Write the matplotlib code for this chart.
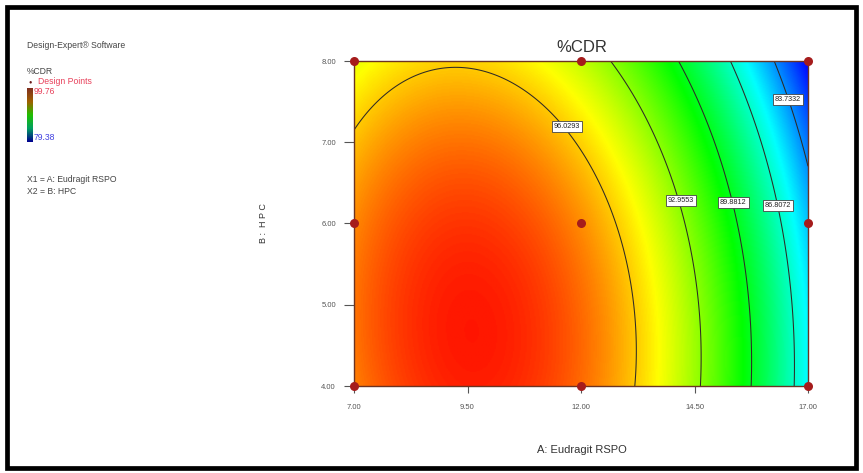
import numpy as np
import matplotlib
matplotlib.use("Agg")
import matplotlib.pyplot as plt
from matplotlib.colors import LinearSegmentedColormap, Normalize
from matplotlib.patches import Rectangle

plt.rcParams['font.family'] = ['Liberation Sans', 'DejaVu Sans']

# ---- data ----
a_range = [7.0, 17.0]          # A: Eudragit RSPO
b_range = [4.0, 8.0]           # B: HPC
x_ticks = [7.00, 9.50, 12.00, 14.50, 17.00]
y_ticks = [4.00, 5.00, 6.00, 7.00, 8.00]
# response surface coefficients (coded units a=(A-12)/5, b=(B-6)/2),
# read off the picture's contours; terms: 1, a, b, ab, a^2, b^2, a^3, a^2 b, a b^2
coef = [97.1510, -6.3621, -1.9142, -0.4718, -6.1722, -1.2818, 0.1032, 0.0528, -0.0434]
contour_levels = [83.7332, 86.8072, 89.8812, 92.9553, 96.0293]
contour_labels = ["83.7332", "86.8072", "89.8812", "92.9553", "96.0293"]
design_A = [7, 12, 17, 7, 12, 17, 7, 12, 17]
design_B = [4, 4, 4, 6, 6, 6, 8, 8, 8]
resp_high = 99.76
resp_low = 79.38

# label anchor positions (layout)
label_pos = [(16.56, 7.53), (16.34, 6.22), (15.35, 6.26), (14.20, 6.28), (11.69, 7.19)]


def surface(A, B):
    a = (A - 12.0) / 5.0
    b = (B - 6.0) / 2.0
    t = [np.ones_like(a), a, b, a * b, a ** 2, b ** 2, a ** 3, a ** 2 * b, a * b ** 2]
    return sum(c * ti for c, ti in zip(coef, t))


W, H = 863, 473
fig = plt.figure(figsize=(W / 100, H / 100), dpi=100)

# outer black frame
fig.patches.append(Rectangle((7 / W, 5 / H), (W - 14) / W, (H - 12) / H,
                             transform=fig.transFigure, fill=False,
                             edgecolor='black', linewidth=3.4, zorder=10))

ax = fig.add_axes([354 / W, 1 - 386 / H, (808 - 354) / W, (386 - 61) / H])

cmap = LinearSegmentedColormap.from_list(
    'de', ['#0000ff', '#00ffff', '#00ff00', '#ffff00', '#ff0000'])

Ag, Bg = np.meshgrid(np.linspace(a_range[0], a_range[1], 400),
                     np.linspace(b_range[0], b_range[1], 300))
Zg = surface(Ag, Bg)
norm = Normalize(vmin=Zg.min(), vmax=resp_high)
ax.imshow(Zg, origin='lower', extent=[a_range[0], a_range[1], b_range[0], b_range[1]],
          cmap=cmap, norm=norm, aspect='auto', interpolation='bilinear')
ax.contour(Ag, Bg, Zg, levels=contour_levels, colors='#2e2a26', linewidths=0.75)

for (x, y), s in zip(label_pos, contour_labels):
    ax.text(x, y, s, fontsize=5.2, ha='center', va='center', color='#222222', zorder=5,
            bbox=dict(boxstyle='square,pad=0.3', fc='white', ec='#444444', lw=0.6))

ax.plot(design_A, design_B, 'o', color='#a51c1c', markersize=6.5, clip_on=False,
        zorder=6, markeredgewidth=0)

ax.set_xlim(a_range)
ax.set_ylim(b_range)
ax.set_xticks(x_ticks)
ax.set_xticklabels([f"{v:.2f}" for v in x_ticks])
ax.set_yticks(y_ticks)
ax.set_yticklabels([f"{v:.2f}" for v in y_ticks])
ax.tick_params(axis='x', direction='out', length=5, width=0.8, pad=8,
               labelsize=5.5, colors='#555555')
ax.tick_params(axis='y', direction='out', length=7, width=0.8, pad=6,
               labelsize=5.5, colors='#555555')
for sp in ax.spines.values():
    sp.set_color('#6b3322')
    sp.set_linewidth(1.0)

fig.text(582 / W, 1 - 47 / H, "%CDR", ha='center', va='center', fontsize=12, color='#333333')
fig.text(582 / W, 1 - 450 / H, "A: Eudragit RSPO", ha='center', va='center', fontsize=8, color='#333333')
fig.text(264 / W, 1 - 223 / H, "B :  H P C", ha='center', va='center', fontsize=6.5,
         rotation=90, color='#333333')

# left info panel
g = '#444444'
fig.text(27 / W, 1 - 45 / H, "Design-Expert® Software", fontsize=6.2, va='center', color=g)
fig.text(27 / W, 1 - 71 / H, "%CDR", fontsize=6.2, va='center', color=g)
fig.text(30 / W, 1 - 82 / H, "●", fontsize=4, va='center', ha='center', color='#6b1a1a')
fig.text(38 / W, 1 - 82 / H, "Design Points", fontsize=6.2, va='center', color='#e8405a')
cax = fig.add_axes([27 / W, 1 - 142 / H, 6 / W, 54 / H])
cax.imshow(np.linspace(0, 1, 100).reshape(-1, 1), origin='lower', aspect='auto',
           cmap=LinearSegmentedColormap.from_list(
               'lg', ['#000090', '#00a060', '#20c000', '#a06000', '#803020']))
cax.set_axis_off()
fig.text(34 / W, 1 - 92 / H, f"{resp_high:.2f}", fontsize=6.2, va='center', color='#e8405a')
fig.text(34 / W, 1 - 138 / H, f"{resp_low:.2f}", fontsize=6.2, va='center', color='#4040e0')
fig.text(27 / W, 1 - 180 / H, "X1 = A: Eudragit RSPO", fontsize=6.2, va='center', color=g)
fig.text(27 / W, 1 - 192 / H, "X2 = B: HPC", fontsize=6.2, va='center', color=g)

fig.savefig("out.png", dpi=100)
